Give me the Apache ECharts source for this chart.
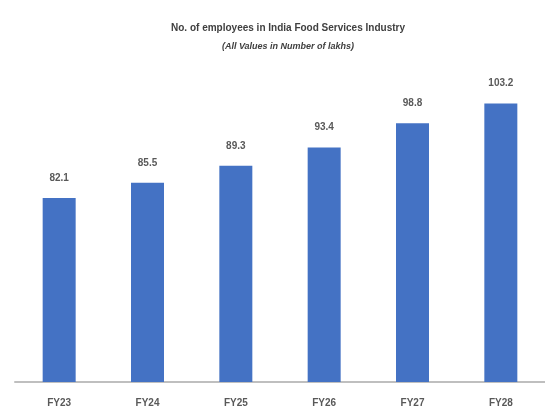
<!DOCTYPE html>
<html>
<head>
<meta charset="utf-8">
<script src="https://cdn.jsdelivr.net/npm/echarts@6/dist/echarts.min.js"></script>
<style>html,body{margin:0;padding:0;background:#fff}#c{width:545px;height:409px}</style>
</head>
<body>
<div id="c"></div>
<script>
var categories = ['FY23', 'FY24', 'FY25', 'FY26', 'FY27', 'FY28'];
var employees = [82.1, 85.5, 89.3, 93.4, 98.8, 103.2];
var titleText = 'No. of employees in India Food Services Industry';
var subtitleText = '(All Values in Number of lakhs)';

var chart = echarts.init(document.getElementById('c'));
var font = "'Liberation Sans Narrow', 'Liberation Sans', sans-serif";
chart.setOption({
  animation: false,
  title: {
    text: titleText,
    subtext: subtitleText,
    left: 283,
    textAlign: 'center',
    top: 18,
    itemGap: 9,
    textStyle: { fontFamily: font, fontSize: 10, fontWeight: 'bold', color: '#404040' },
    subtextStyle: { fontFamily: font, fontSize: 9, fontStyle: 'italic', fontWeight: 'bold', color: '#404040' }
  },
  grid: { left: 15, width: 536, top: 100, bottom: 27 },
  xAxis: {
    type: 'category',
    data: categories,
    axisLine: { lineStyle: { color: '#bfbfbf', width: 2 } },
    axisTick: { show: false },
    axisLabel: { margin: 16, fontFamily: font, fontSize: 10, fontWeight: 'bold', color: '#595959' }
  },
  yAxis: {
    type: 'value', min: 41, max: 104, show: false,
    splitLine: { show: false }
  },
  series: [{
    type: 'bar',
    data: employees,
    barWidth: 33,
    itemStyle: { color: '#4472C4' },
    label: {
      show: true, position: 'top', distance: 15,
      fontFamily: font, fontSize: 10, fontWeight: 'bold', color: '#595959'
    }
  }]
});
</script>
</body>
</html>
